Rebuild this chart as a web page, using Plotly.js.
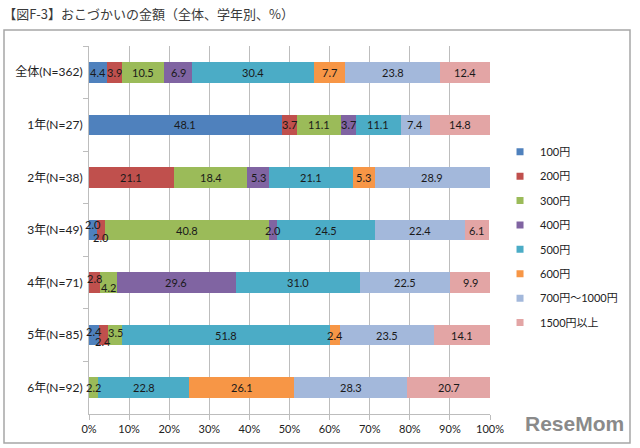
<!DOCTYPE html>
<html>
<head>
<meta charset="utf-8">
<script src="https://cdn.plot.ly/plotly-3.0.1.min.js"></script>
<style>
  html, body { margin: 0; padding: 0; background: #ffffff; }
  #chart { width: 640px; height: 448px; }
</style>
</head>
<body>
<div id="chart"></div>
<script>
// ---- Data ----
const categories = ['全体(N=362)', '1年(N=27)', '2年(N=38)', '3年(N=49)', '4年(N=71)', '5年(N=85)', '6年(N=92)'];
const seriesNames = ['100円', '200円', '300円', '400円', '500円', '600円', '700円～1000円', '1500円以上'];
const yen100       = [4.4, 48.1, 0,    2.0,  0,    2.4,  0];
const yen200       = [3.9, 3.7,  21.1, 2.0,  2.8,  2.4,  0];
const yen300       = [10.5, 11.1, 18.4, 40.8, 4.2, 3.5,  2.2];
const yen400       = [6.9, 3.7,  5.3,  2.0,  29.6, 0,    0];
const yen500       = [30.4, 11.1, 21.1, 24.5, 31.0, 51.8, 22.8];
const yen600       = [7.7, 0,    5.3,  0,    0,    2.4,  26.1];
const yen700to1000 = [23.8, 7.4, 28.9, 22.4, 22.5, 23.5, 28.3];
const yen1500plus  = [12.4, 14.8, 0,   6.1,  9.9,  14.1, 20.7];
const xTickVals = [0, 10, 20, 30, 40, 50, 60, 70, 80, 90, 100];
const xTickText = ['0%', '10%', '20%', '30%', '40%', '50%', '60%', '70%', '80%', '90%', '100%'];

// ---- Styles ----
const colors = ['#4F81BD', '#C0504D', '#9BBB59', '#8064A2', '#4BACC6', '#F79646', '#A3B8DB', '#E3A5A5'];
// vertical nudges (px) for crowded labels: key "row-series"
const labelShift = { '3-0': 6, '3-1': -7, '4-1': 4, '4-2': -5, '5-0': 4, '5-1': -6, '5-2': 3 };
const fontFam = 'Lato, "Noto Sans CJK JP", sans-serif';

const allSeries = [yen100, yen200, yen300, yen400, yen500, yen600, yen700to1000, yen1500plus];

const traces = [];
allSeries.forEach((vals, si) => {
  traces.push({
    type: 'bar', orientation: 'h',
    x: vals, y: categories,
    name: seriesNames[si],
    marker: { color: colors[si], line: { width: 0 } },
    showlegend: false,
    hoverinfo: 'x+name'
  });
});
// legend entries with small square markers
allSeries.forEach((vals, si) => {
  traces.push({
    type: 'scatter', mode: 'markers',
    x: [null], y: [null],
    name: seriesNames[si],
    legendgroup: 'g' + si,
    marker: { symbol: 'square', size: 7, color: colors[si] },
    showlegend: true
  });
});

// data labels at the centre of each segment
const annotations = [];
categories.forEach((cat, ri) => {
  let cum = 0;
  allSeries.forEach((vals, si) => {
    const v = vals[ri];
    if (v > 0) {
      annotations.push({
        x: cum + v / 2, y: cat, xref: 'x', yref: 'y',
        text: v.toFixed(1), showarrow: false,
        yshift: labelShift[ri + '-' + si] || 0,
        font: { family: fontFam, size: 11, color: '#1a1a1a' }
      });
    }
    cum += v;
  });
});
annotations.push({
  xref: 'paper', yref: 'paper', x: 1.338, y: -0.025, xanchor: 'right', yanchor: 'middle',
  text: '<b>ReseMom</b>', showarrow: false,
  font: { family: 'Liberation Sans, Arial, sans-serif', size: 21, color: '#8a8a8a' }
});

const layout = {
  width: 640, height: 448,
  margin: { l: 89, r: 150, t: 46, b: 34 },
  paper_bgcolor: '#ffffff', plot_bgcolor: '#ffffff',
  barmode: 'stack', bargap: 0.61,
  title: {
    text: '【図F-3】おこづかいの金額（全体、学年別、%）',
    xref: 'container', yref: 'container', x: 0.005, xanchor: 'left', y: 0.967, yanchor: 'middle',
    font: { family: '"Noto Sans CJK JP", sans-serif', size: 13, color: '#3a3a3a', weight: 'normal' }
  },
  xaxis: {
    range: [0, 100], tickmode: 'array', tickvals: xTickVals, ticktext: xTickText,
    showgrid: true, gridcolor: '#bdbdbd', gridwidth: 1,
    zeroline: false, showline: true, linecolor: '#bdbdbd',
    ticks: 'outside', ticklen: 5, tickcolor: '#bdbdbd',
    tickfont: { family: fontFam, size: 11, color: '#222222' },
    fixedrange: true
  },
  yaxis: {
    type: 'category', autorange: 'reversed',
    showgrid: false, zeroline: false,
    showline: true, linecolor: '#bdbdbd',
    ticks: 'outside', ticklen: 5, tickcolor: '#bdbdbd', tickson: 'boundaries',
    ticklabelstandoff: 3,
    tickfont: { family: fontFam, size: 12, color: '#222222' },
    fixedrange: true
  },
  legend: {
    x: 1.025, xanchor: 'left', y: 0.752, yanchor: 'top',
    traceorder: 'grouped', tracegroupgap: 5.4,
    font: { family: fontFam, size: 11, color: '#222222' },
    bgcolor: 'rgba(0,0,0,0)'
  },
  shapes: [{
    type: 'rect', xref: 'paper', yref: 'paper',
    x0: (4 - 89) / 401, x1: (630 - 89) / 401,
    y0: (414 - 443) / 368, y1: (414 - 30) / 368,
    line: { color: '#a6a6a6', width: 1.5 }, fillcolor: 'rgba(0,0,0,0)', layer: 'below'
  }],
  annotations: annotations,
  showlegend: true
};

Plotly.newPlot('chart', traces, layout, { displayModeBar: false, staticPlot: true });
</script>
</body>
</html>
